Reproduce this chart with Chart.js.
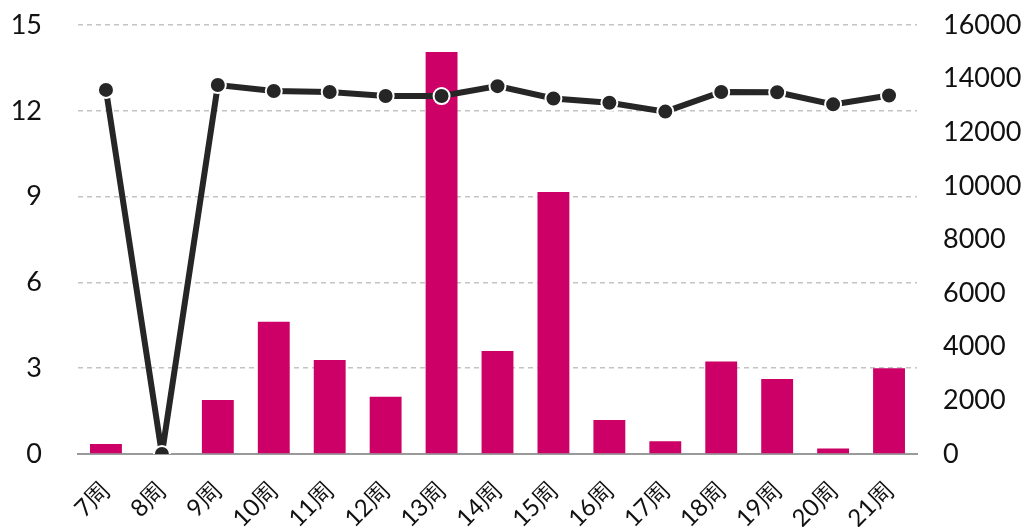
<!DOCTYPE html>
<html>
<head>
<meta charset="utf-8">
<script src="https://cdn.jsdelivr.net/npm/chart.js@4/dist/chart.umd.min.js"></script>
<style>
  html, body { margin: 0; padding: 0; background: #fff; }
  #wrap { width: 1033px; height: 527px; }
</style>
</head>
<body>
<div id="wrap"><canvas id="chart"></canvas></div>
<script>
// data
const weeks = ['7周', '8周', '9周', '10周', '11周', '12周', '13周', '14周', '15周', '16周', '17周', '18周', '19周', '20周', '21周'];
const barValues = [0.35, 0, 1.89, 4.62, 3.29, 2.0, 14.06, 3.6, 9.16, 1.19, 0.45, 3.23, 2.62, 0.19, 3.0];
const lineValues = [13580, 0, 13760, 13540, 13500, 13350, 13350, 13720, 13260, 13100, 12770, 13500, 13490, 13040, 13370];
const leftTicks = [0, 3, 6, 9, 12, 15];
const rightTicks = [0, 2000, 4000, 6000, 8000, 10000, 12000, 14000, 16000];

const fontFamily = 'Lato, "Open Sans", sans-serif';

// y axes: fixed width, no extra top padding from the tick labels
const fixWidth = (w) => (s) => {
    s.width = w;
    s.paddingTop = 0;
    s.paddingBottom = 0;
};

const ctx = document.getElementById('chart').getContext('2d');
const chart = new Chart(ctx, {
    type: 'bar',
    data: {
        labels: weeks,
        datasets: [
            {
                type: 'line',
                data: lineValues,
                yAxisID: 'y1',
                borderColor: '#262626',
                borderWidth: 6,
                pointRadius: 8,
                pointBackgroundColor: '#262626',
                pointBorderColor: '#ffffff',
                pointBorderWidth: 2,
                tension: 0,
                order: 0
            },
            {
                type: 'bar',
                data: barValues,
                yAxisID: 'y',
                backgroundColor: '#CC0066',
                categoryPercentage: 1,
                barPercentage: 0.57,
                order: 1
            }
        ]
    },
    options: {
        responsive: true,
        maintainAspectRatio: false,
        animation: false,
        layout: { autoPadding: false, padding: { top: 25, right: 0, left: 0, bottom: 0 } },
        plugins: {
            legend: { display: false },
            tooltip: { enabled: false }
        },
        scales: {
            x: {
                grid: { display: false },
                border: { display: true, color: '#9a9a9a', width: 2 },
                ticks: {
                    color: '#111',
                    font: { family: fontFamily, size: 24 },
                    minRotation: 45,
                    maxRotation: 45,
                    padding: 14
                },
                afterFit: (s) => { s.height = 73; }
            },
            y: {
                position: 'left',
                min: 0,
                max: 15,
                afterBuildTicks: (s) => { s.ticks = leftTicks.map(v => ({ value: v })); },
                grid: {
                    color: (c) => c.tick.value === 0 ? 'rgba(0,0,0,0)' : '#c4c4c4',
                    lineWidth: 1.5,
                    drawTicks: false
                },
                border: { display: false, dash: [5, 4] },
                ticks: {
                    color: '#111',
                    font: { family: fontFamily, size: 27 },
                    padding: 36
                },
                afterFit: fixWidth(78)
            },
            y1: {
                position: 'right',
                min: 0,
                max: 16000,
                afterBuildTicks: (s) => { s.ticks = rightTicks.map(v => ({ value: v })); },
                grid: { display: false },
                border: { display: false },
                ticks: {
                    color: '#111',
                    font: { family: fontFamily, size: 27 },
                    padding: 18,
                    callback: (v) => String(v)
                },
                afterFit: fixWidth(116)
            }
        }
    }
});
</script>
</body>
</html>
